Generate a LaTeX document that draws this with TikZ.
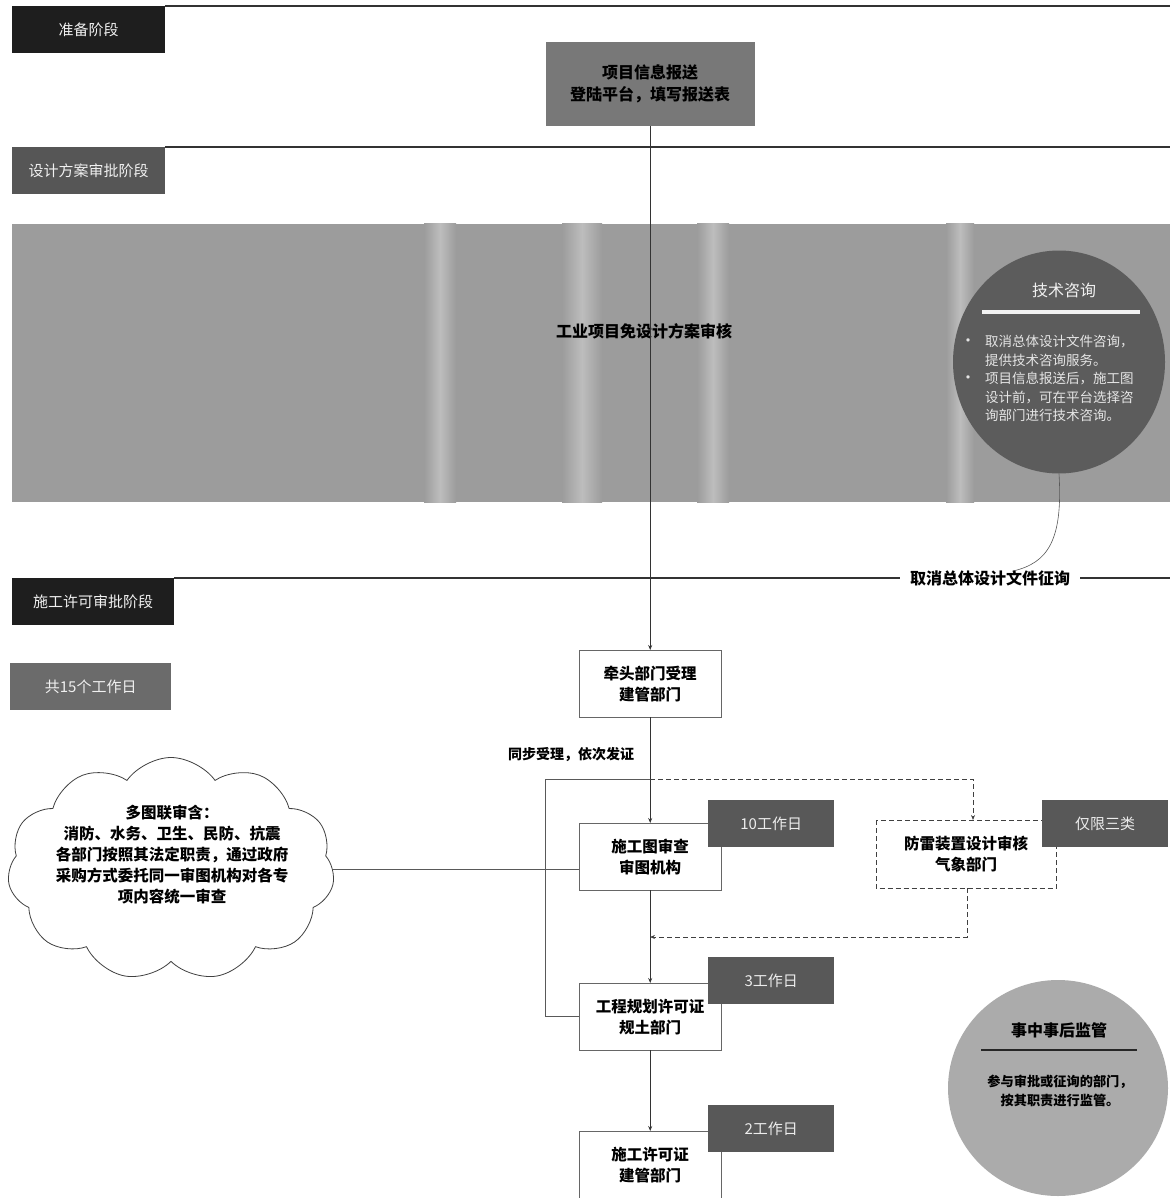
\documentclass[tikz,border=0pt]{standalone}
\usepackage{fontspec}
\setmainfont{Noto Sans CJK SC}
\usetikzlibrary{shapes.symbols,shapes.geometric,arrows.meta}
\definecolor{labdark}{HTML}{1E1E1E}
\definecolor{labmid}{HTML}{565656}
\definecolor{band}{HTML}{9C9C9C}
\definecolor{bandlight}{HTML}{BDBDBD}
\definecolor{topbox}{HTML}{787878}
\definecolor{daybox}{HTML}{585858}
\definecolor{cone}{HTML}{5C5C5C}
\definecolor{ctwo}{HTML}{ABABAB}
\definecolor{totbox}{HTML}{6B6B6B}
\definecolor{linegray}{HTML}{333333}
\begin{document}
\begin{tikzpicture}[x=1pt,y=-1pt,
  lab/.style={fill=#1, text=white!88!gray, minimum width=153pt, minimum height=47pt, inner sep=0pt, anchor=north west, font=\fontsize{15}{18}\selectfont},
  proc/.style={draw=gray!80!black, fill=white, minimum width=142pt, minimum height=67pt, align=center, anchor=north west, inner sep=0pt, font=\bfseries\fontsize{15.5}{21}\selectfont},
  days/.style={fill=daybox, text=white!85!gray, minimum width=126pt, minimum height=47pt, inner sep=0pt, anchor=north west, font=\fontsize{15}{18}\selectfont},
  stage/.style={draw=linegray, line width=1.4pt},
  conn/.style={draw=black!80, line width=0.8pt},
  arr/.style={-{Stealth[length=5pt,width=4pt]}},
  dashline/.style={draw=black!75, line width=0.9pt, dash pattern=on 5pt off 3pt}]
\useasboundingbox (0,0) rectangle (1170,1198);
\fill[white] (0,0) rectangle (1170,1198);

% stage labels and lines
\node[lab=labdark] (l1) at (12,6) {准备阶段};
\coordinate (e1) at (1170,6);
\draw[stage] (l1.north east) -- (e1);
\node[lab=labmid] (l2) at (12,147) {设计方案审批阶段};
\coordinate (e2) at (1170,147);
\draw[stage] (l2.north east) -- (e2);
\node[lab=labdark, minimum width=162pt] (l3) at (12,578) {施工许可审批阶段};
\node[fill=white, inner xsep=10pt, inner ysep=2pt, font=\bfseries\fontsize{16}{18}\selectfont] (lb) at (990,578) {取消总体设计文件征询};
\coordinate (e3) at (1170,578);
\draw[stage] (l3.north east) -- (lb.west);
\draw[stage] (lb.east) -- (e3);
\node[lab=totbox, minimum width=161pt] (tot) at (10,663) {共15个工作日};

% band
\fill[band] (12,224) rectangle (1170,502);
\foreach \sx/\sw in {440/16,582/20,713/16,960/14}{
  \shade[left color=band, right color=bandlight] (\sx-\sw,224) rectangle (\sx,502);
  \shade[left color=bandlight, right color=band] (\sx,224) rectangle (\sx+\sw,502);
}
\node[font=\bfseries\fontsize{16}{18}\selectfont] (bandt) at (644,331) {工业项目免设计方案审核};

% consulting circle
\node[ellipse, fill=cone, minimum width=212pt, minimum height=223pt, inner sep=0pt] (c1) at (1059,362) {};
\node[text=white!88!gray, font=\fontsize{16}{18}\selectfont] (c1h) at (1064,290) {技术咨询};
\coordinate (c1la) at (982,312);
\coordinate (c1lb) at (1140,312);
\draw[white!90!gray, line width=3.5pt] (c1la) -- (c1lb);
\node[anchor=north west, align=left, inner sep=0pt, text=white!80!gray, font=\fontsize{13.5}{18.5}\selectfont] (c1t) at (985,335) {取消总体设计文件咨询，\\提供技术咨询服务。\\项目信息报送后，施工图\\设计前，可在平台选择咨\\询部门进行技术咨询。};
\node[text=white!80!gray, font=\fontsize{16}{16}\selectfont] (b1) at (968,343) {•};
\node[text=white!80!gray, font=\fontsize{16}{16}\selectfont] (b2) at (968,380) {•};
\coordinate (lbend) at (1013,571);
\draw[gray!70!black, line width=0.6pt] (c1.south) .. controls (1063,540) and (1048,563) .. (lbend);

% top box
\node[proc, draw=none, fill=topbox, minimum width=209pt, minimum height=84pt, font=\bfseries\fontsize{16}{22}\selectfont] (tb) at (545.5,42) {项目信息报送\\登陆平台，填写报送表};

% process boxes
\node[proc] (qt) at (579,650) {牵头部门受理\\建管部门};
\node[proc] (sg) at (579,823) {施工图审查\\审图机构};
\node[proc] (gh) at (579,983) {工程规划许可证\\规土部门};
\node[proc] (sx) at (579,1131) {施工许可证\\建管部门};
\node[proc, draw=none, minimum width=180pt, minimum height=68pt, fill=white] (fl) at (876,820) {防雷装置设计审核\\气象部门};
\draw[dashline] (fl.north west) rectangle (fl.south east);

\node[font=\bfseries\fontsize{14}{16}\selectfont] (tbs) at (571,755) {同步受理，依次发证};

% connectors
\coordinate (split) at (650,779);
\coordinate (lc) at (545,779);
\coordinate (rc) at (973,779);
\coordinate (rb) at (967,937);
\coordinate (merge) at (650,937);
\draw[conn, arr] (tb.south) -- (qt.north);
\draw[conn, arr] (qt.south) -- (sg.north);
\draw[conn, arr] (sg.south) -- (gh.north);
\draw[conn, arr] (gh.south) -- (sx.north);
\draw[conn, line width=0.6pt, draw=black!65] (split) -- (lc) |- (gh.west);
\draw[dashline, arr] (split) -- (rc) -- (rc |- fl.north);
\draw[dashline, arr] (rb |- fl.south) -- (rb) -- (merge);

% day boxes
\node[days] (d10) at (708,800) {10工作日};
\node[days] (d3) at (708,957) {3工作日};
\node[days] (d2) at (708,1105) {2工作日};
\node[days] (only) at (1042,800) {仅限三类};

% cloud
\node[cloud, draw=black!75, line width=0.8pt, fill=white, cloud puffs=11, cloud puff arc=110, cloud ignores aspect, minimum width=327pt, minimum height=223pt, inner sep=0pt] (cl) at (171,869) {};
\node[align=center, font=\bfseries\fontsize{15.5}{21}\selectfont] (clt) at (172,855) {多图联审含：\\消防、水务、卫生、民防、抗震\\各部门按照其法定职责，通过政府\\采购方式委托同一审图机构对各专\\项内容统一审查};
\draw[conn, line width=0.6pt, draw=black!65] (cl.east) -- (sg.west |- cl.east);

% supervision circle
\node[ellipse, fill=ctwo, minimum width=220pt, minimum height=216pt, inner sep=0pt] (c2) at (1058,1088) {};
\node[font=\bfseries\fontsize{16}{18}\selectfont] (c2h) at (1059,1030) {事中事后监管};
\coordinate (c2la) at (981,1050);
\coordinate (c2lb) at (1137,1050);
\draw[black!85, line width=2.5pt] (c2la) -- (c2lb);
\node[align=center, font=\bfseries\fontsize{13.2}{19}\selectfont] (c2t) at (1060,1091) {参与审批或征询的部门，\\按其职责进行监管。};
\end{tikzpicture}
\end{document}
